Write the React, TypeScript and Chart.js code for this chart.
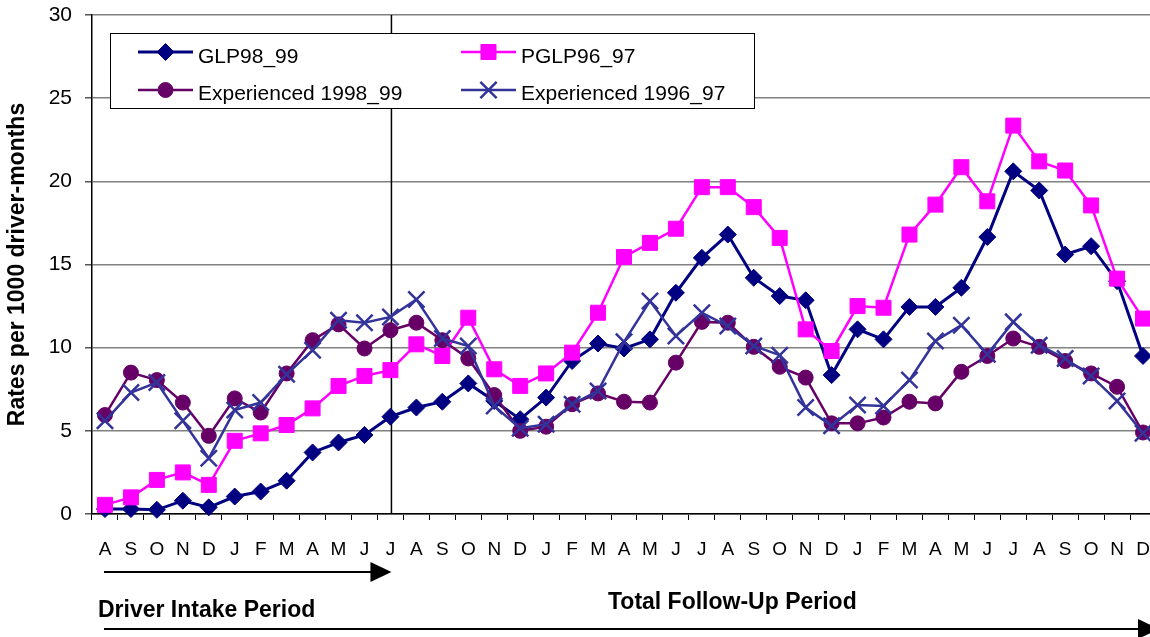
import React, { useEffect, useRef } from 'react';
import { Chart, registerables } from 'chart.js';

Chart.register(...registerables);

// ---------------- DATA ----------------
const monthLabels = [
  'A', 'S', 'O', 'N', 'D',
  'J', 'F', 'M', 'A', 'M', 'J', 'J', 'A', 'S', 'O', 'N', 'D',
  'J', 'F', 'M', 'A', 'M', 'J', 'J', 'A', 'S', 'O', 'N', 'D',
  'J', 'F', 'M', 'A', 'M', 'J', 'J', 'A', 'S', 'O', 'N', 'D',
];

const glp98_99 = [
  0.3, 0.3, 0.25, 0.8, 0.4,
  1.05, 1.35, 2.0, 3.7, 4.3, 4.75, 5.85, 6.4, 6.75, 7.85, 6.8, 5.7,
  7.0, 9.2, 10.25, 9.95, 10.5, 13.3, 15.4, 16.8, 14.2, 13.1, 12.85, 8.35,
  11.1, 10.5, 12.45, 12.45, 13.6, 16.65, 20.6, 19.45, 15.6, 16.1, 14.0, 9.5,
];

const pglp96_97 = [
  0.55, 1.0, 2.05, 2.5, 1.75,
  4.4, 4.85, 5.35, 6.35, 7.7, 8.3, 8.65, 10.2, 9.5, 11.8, 8.7, 7.7,
  8.45, 9.7, 12.1, 15.45, 16.3, 17.15, 19.65, 19.65, 18.45, 16.6, 11.1, 9.8,
  12.5, 12.4, 16.8, 18.6, 20.85, 18.8, 23.35, 21.2, 20.65, 18.55, 14.15, 11.75,
];

const experienced1998_99 = [
  5.95, 8.5, 8.05, 6.7, 4.7,
  6.95, 6.1, 8.45, 10.45, 11.4, 9.95, 11.05, 11.5, 10.45, 9.35, 7.15, 5.0,
  5.25, 6.6, 7.25, 6.75, 6.7, 9.1, 11.55, 11.5, 10.05, 8.85, 8.2, 5.45,
  5.45, 5.8, 6.75, 6.65, 8.55, 9.5, 10.55, 10.05, 9.2, 8.45, 7.65, 4.9,
];

const experienced1996_97 = [
  5.6, 7.3, 7.9, 5.6, 3.35,
  6.25, 6.7, 8.4, 9.85, 11.65, 11.5, 11.85, 12.9, 10.55, 10.1, 6.5, 5.15,
  5.4, 6.6, 7.4, 10.35, 12.8, 10.7, 12.1, 11.3, 10.1, 9.55, 6.4, 5.3,
  6.55, 6.5, 8.05, 10.4, 11.35, 9.6, 11.55, 10.15, 9.35, 8.3, 6.8, 4.85,
];

const seriesNames = ['GLP98_99', 'PGLP96_97', 'Experienced 1998_99', 'Experienced 1996_97'];
const yTitle = 'Rates per 1000 driver-months';
const intakeLabel = 'Driver Intake Period';
const followUpLabel = 'Total Follow-Up Period';
const intakeEndIndex = 11;

// ---------------- STYLES ----------------
const FONT = "'Liberation Sans', Arial, Helvetica, sans-serif";

type SeriesStyle = { color: string; point: string; radius: number; lineWidth: number; borderW: number };
const styles: SeriesStyle[] = [
  { color: '#000080', point: 'rectRot', radius: 8.5, lineWidth: 3, borderW: 1 },
  { color: '#FF00FF', point: 'rect', radius: 10.6, lineWidth: 2.5, borderW: 1 },
  { color: '#660066', point: 'circle', radius: 7.5, lineWidth: 2.5, borderW: 1 },
  { color: '#333399', point: 'crossRot', radius: 11.5, lineWidth: 2.5, borderW: 2.5 },
];

function drawMarker(ctx: CanvasRenderingContext2D, s: SeriesStyle, x: number, y: number) {
  const r = s.radius;
  ctx.save();
  ctx.fillStyle = s.color;
  ctx.strokeStyle = s.color;
  ctx.lineWidth = s.borderW;
  ctx.beginPath();
  if (s.point === 'rectRot') {
    ctx.moveTo(x - r, y);
    ctx.lineTo(x, y - r);
    ctx.lineTo(x + r, y);
    ctx.lineTo(x, y + r);
    ctx.closePath();
    ctx.fill();
    ctx.stroke();
  } else if (s.point === 'rect') {
    const h = r * Math.SQRT1_2;
    ctx.rect(x - h, y - h, 2 * h, 2 * h);
    ctx.fill();
    ctx.stroke();
  } else if (s.point === 'circle') {
    ctx.arc(x, y, r, 0, Math.PI * 2);
    ctx.fill();
    ctx.stroke();
  } else {
    const h = r * Math.SQRT1_2;
    ctx.moveTo(x - h, y - h);
    ctx.lineTo(x + h, y + h);
    ctx.moveTo(x - h, y + h);
    ctx.lineTo(x + h, y - h);
    ctx.stroke();
  }
  ctx.restore();
}

const annotationPlugin = {
  id: 'annotationPlugin',
  beforeDatasetsDraw(chart: any) {
    const { ctx, chartArea, scales } = chart;
    const xp = scales.x.getPixelForValue(intakeEndIndex) + 1;
    ctx.save();
    ctx.strokeStyle = '#000';
    ctx.lineWidth = 1.5;
    ctx.beginPath();
    ctx.moveTo(xp, chartArea.top);
    ctx.lineTo(xp, chartArea.bottom);
    ctx.stroke();
    ctx.restore();
  },
  afterDatasetsDraw(chart: any) {
    const { ctx, chartArea } = chart;
    // legend box
    const bx = chartArea.left + 18;
    const by = chartArea.top + 18;
    const bw = 644;
    const bh = 75;
    ctx.save();
    ctx.fillStyle = '#fff';
    ctx.fillRect(bx, by, bw, bh);
    ctx.strokeStyle = '#000';
    ctx.lineWidth = 1;
    ctx.strokeRect(Math.round(bx) + 0.5, Math.round(by) + 0.5, bw, bh);
    const cols = [bx + 28, bx + 351];
    const rowsLine = [by + 19, by + 57];
    const rowsText = [by + 30, by + 67];
    [0, 1, 2, 3].forEach((i) => {
      const col = i % 2;
      const row = Math.floor(i / 2);
      const s = styles[i];
      const x0 = cols[col];
      const y0 = rowsLine[row];
      ctx.strokeStyle = s.color;
      ctx.lineWidth = s.lineWidth;
      ctx.beginPath();
      ctx.moveTo(x0, y0);
      ctx.lineTo(x0 + 55, y0);
      ctx.stroke();
      drawMarker(ctx, s, x0 + 27.5, y0);
      ctx.fillStyle = '#000';
      ctx.font = `21px ${FONT}`;
      ctx.textBaseline = 'alphabetic';
      ctx.textAlign = 'left';
      ctx.fillText(seriesNames[i], x0 + 60, rowsText[row]);
    });
    ctx.restore();
  },
  afterDraw(chart: any) {
    const { ctx, chartArea, scales } = chart;
    const xs = scales.x;
    const startX = xs.getPixelForValue(0) - 1;
    const tip1 = xs.getPixelForValue(intakeEndIndex) + 1;
    const tip2 = chartArea.right + 3;
    const y1 = chartArea.bottom + 58;
    const y2 = chartArea.bottom + 115;
    ctx.save();
    ctx.strokeStyle = '#000';
    ctx.fillStyle = '#000';
    ctx.lineWidth = 2;
    const arrow = (x0: number, x1: number, y: number) => {
      ctx.beginPath();
      ctx.moveTo(x0, y);
      ctx.lineTo(x1 - 18, y);
      ctx.stroke();
      ctx.beginPath();
      ctx.moveTo(x1 - 21, y - 10);
      ctx.lineTo(x1, y);
      ctx.lineTo(x1 - 21, y + 10);
      ctx.closePath();
      ctx.fill();
    };
    arrow(startX, tip1, y1);
    arrow(startX, tip2, y2);
    ctx.font = `bold 23px ${FONT}`;
    ctx.textAlign = 'left';
    ctx.textBaseline = 'alphabetic';
    ctx.fillText(intakeLabel, startX - 6, chartArea.bottom + 103);
    ctx.fillText(followUpLabel, 608, chartArea.bottom + 95);
    ctx.restore();
  },
};

export default function App() {
  const ref = useRef<HTMLCanvasElement | null>(null);

  useEffect(() => {
    document.body.style.margin = '0';
    const canvas = ref.current;
    if (!canvas) return;
    const data = [glp98_99, pglp96_97, experienced1998_99, experienced1996_97];
    const chart = new Chart(canvas, {
      type: 'line',
      data: {
        labels: monthLabels,
        datasets: data.map((d, i) => ({
          label: seriesNames[i],
          data: d,
          borderColor: styles[i].color,
          backgroundColor: styles[i].color,
          borderWidth: styles[i].lineWidth,
          pointStyle: styles[i].point as any,
          pointRadius: styles[i].radius,
          pointBackgroundColor: styles[i].color,
          pointBorderColor: styles[i].color,
          pointBorderWidth: styles[i].borderW,
          tension: 0,
          fill: false,
          order: 4 - i,
          clip: false as any,
        })),
      },
      options: {
        animation: false,
        responsive: false,
        devicePixelRatio: 1,
        layout: { padding: { left: 0, right: 12, top: 15, bottom: 0 } },
        plugins: {
          legend: { display: false },
          tooltip: { enabled: false },
        },
        scales: {
          x: {
            type: 'category',
            offset: true,
            grid: {
              display: true,
              offset: true,
              drawOnChartArea: false,
              drawTicks: true,
              tickLength: 6,
              tickColor: '#000',
              lineWidth: 1,
            },
            border: { display: true, color: '#000', width: 1.5 },
            ticks: {
              autoSkip: false,
              maxRotation: 0,
              minRotation: 0,
              padding: 18,
              color: '#000',
              font: { family: FONT, size: 19 },
            },
            afterFit(scale: any) {
              scale.height = 123;
              scale.paddingLeft = 0;
              scale.paddingRight = 0;
            },
          },
          y: {
            min: 0,
            max: 30,
            ticks: {
              stepSize: 5,
              padding: 13,
              color: '#000',
              font: { family: FONT, size: 21 },
            },
            grid: {
              color: '#808080',
              lineWidth: 1.5,
              tickLength: 7,
              tickColor: '#555',
            },
            border: { display: true, color: '#000', width: 1.5 },
            title: {
              display: true,
              text: yTitle,
              color: '#000',
              font: { family: FONT, size: 23, weight: 'bold' },
              padding: { top: 4, bottom: 4 },
            },
            afterFit(scale: any) {
              scale.width = 92;
              scale.paddingTop = 0;
              scale.paddingBottom = 0;
            },
          },
        },
      },
      plugins: [annotationPlugin],
    });
    return () => chart.destroy();
  }, []);

  return (
    <div style={{ width: 1150, height: 637, overflow: 'hidden', position: 'relative', background: '#fff' }}>
      <canvas ref={ref} width={1170} height={637} style={{ width: 1170, height: 637, display: 'block' }} />
    </div>
  );
}
